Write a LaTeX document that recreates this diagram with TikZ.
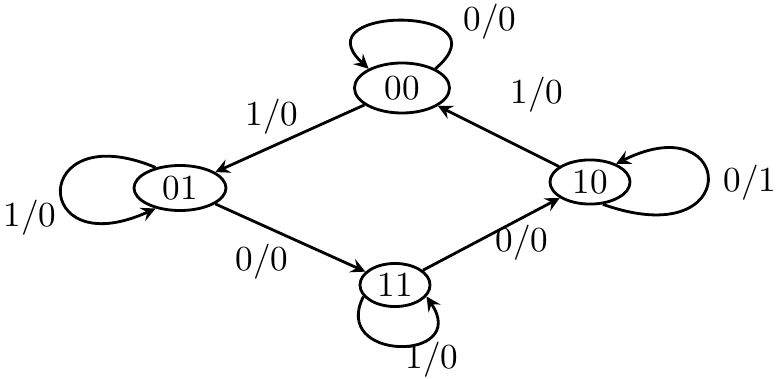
\documentclass[tikz,border=0pt]{standalone}
\usetikzlibrary{shapes.geometric}

\begin{document}
\begin{tikzpicture}[thick, x=0.01cm, y=-0.01cm, every node/.style={font=\normalsize}]
        \useasboundingbox (0,0) rectangle (776,379);

        \node[
            draw,
            ellipse,
            inner sep=1pt,
            minimum width=0.95cm,
            minimum height=0.5cm
        ](n00) at (402,88){00};

        \node[
            draw,
            ellipse,
            inner sep=1pt,
            minimum width=0.92cm,
            minimum height=0.45cm
        ](n01) at (180,188){01};

        \node[
            draw,
            ellipse,
            inner sep=1pt,
            minimum width=0.7cm,
            minimum height=0.4cm
        ](n11) at (395,285){11};

        \node[
            draw,
            ellipse,
            inner sep=1pt,
            minimum width=0.8cm,
            minimum height=0.4cm
        ](n10) at (590,182){10};

        % transitions
        \draw [-stealth](n00) -- (n01);
        \draw [-stealth](n01) -- (n11);
        \draw [-stealth](n11) -- (n10);
        \draw [-stealth](n10) -- (n00);

        % self loops
        \draw [-stealth](n00.30) .. controls (510,5) and (300,5) .. (n00.150);
        \draw [-stealth](n01.140) .. controls (30,115) and (30,265) .. (n01.220);
        \draw [-stealth](n11.200) .. controls (330,362) and (470,362) .. (n11.340);
        \draw [-stealth](n10.-60) .. controls (745,255) and (735,105) .. (n10.35);

        % labels
        \node (l00) at (490,22){0/0};
        \node (l0001) at (272,117){1/0};
        \node (l1000) at (537,95){1/0};
        \node (l01) at (30,218){1/0};
        \node (l0111) at (262,262){0/0};
        \node (l1110) at (522,243){0/0};
        \node (l10) at (750,183){0/1};
        \node (l11) at (432,360){1/0};
    \end{tikzpicture}
\end{document}
